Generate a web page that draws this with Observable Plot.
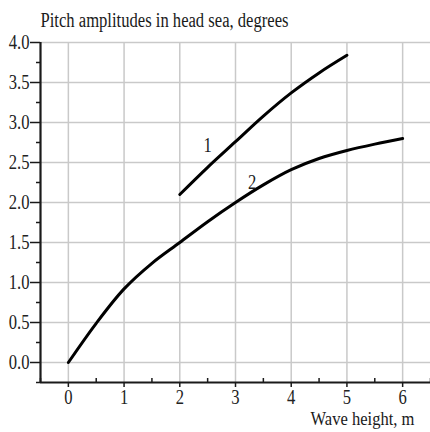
<!DOCTYPE html>
<html><head><meta charset="utf-8">
<script src="https://cdn.jsdelivr.net/npm/d3@7"></script>
<script src="https://cdn.jsdelivr.net/npm/@observablehq/plot@0.6"></script>
<style>body{margin:0;background:#fff} svg{display:block}</style>
</head><body><div id="chart"></div>
<script>
// Data
const waveHeight1 = [2, 2.5, 3, 3.5, 4, 4.5, 5];
const pitch1 = [2.1, 2.44, 2.76, 3.08, 3.37, 3.62, 3.84];
const waveHeight2 = [0, 0.5, 1, 1.5, 2, 2.5, 3, 3.5, 4, 4.5, 5, 5.5, 6];
const pitch2 = [0, 0.49, 0.92, 1.24, 1.5, 1.76, 2.0, 2.22, 2.41, 2.55, 2.65, 2.73, 2.8];
const curveNames = ["1", "2"];
const curveLabelX = [2.5, 3.3];
const curveLabelY = [2.71, 2.25];
const xTicks = [0, 1, 2, 3, 4, 5, 6];
const xMinor = [-0.5, 0.5, 1.5, 2.5, 3.5, 4.5, 5.5, 6.5];
const yTicks = [0, 0.5, 1, 1.5, 2, 2.5, 3, 3.5, 4];
const yMinor = [-0.25, 0.25, 0.75, 1.25, 1.75, 2.25, 2.75, 3.25, 3.75];
const xDomain = [-0.5, 6.5];
const yDomain = [-0.25, 4];
const titleText = "Pitch amplitudes in head sea, degrees";
const xLabelText = "Wave height, m";

const s1 = waveHeight1.map((x, i) => ({x, y: pitch1[i]}));
const s2 = waveHeight2.map((x, i) => ({x, y: pitch2[i]}));
const labels = curveNames.map((t, i) => ({t, x: curveLabelX[i], y: curveLabelY[i]}));

const grid = "#c9c9c9";
const ink = "#1a1a1a";

const chart = Plot.plot({
  width: 430, height: 432,
  marginLeft: 40, marginRight: 0, marginTop: 42, marginBottom: 50,
  style: {fontFamily: "'Liberation Serif', 'Times New Roman', serif", fontSize: "20px", background: "#fff", color: ink},
  x: {domain: xDomain},
  y: {domain: yDomain},
  marks: [
    Plot.ruleX(xTicks, {y1: yDomain[0], y2: yDomain[1], stroke: grid, strokeWidth: 1.5}),
    Plot.ruleY(yTicks, {x1: xDomain[0], x2: xDomain[1], stroke: grid, strokeWidth: 1.5}),
    Plot.axisY({ticks: yTicks, tickSize: 10, tickPadding: 1, tickFormat: d3.format(".1f"), label: null, strokeWidth: 1.5, fill: "#222", fontSize: 20}),
    Plot.axisY({ticks: yMinor, tickSize: 4, text: null, label: null, strokeWidth: 1.5}),
    Plot.axisX({ticks: xTicks, tickSize: 5, tickPadding: 2, tickFormat: d3.format("d"), label: null, strokeWidth: 1.5, fill: "#222", fontSize: 20}),
    Plot.ruleX(xMinor, {y1: yDomain[0], y2: yDomain[0], insetBottom: 4, strokeWidth: 1.5}),
    Plot.ruleX([xDomain[0]], {y1: yDomain[0], y2: yDomain[1], strokeWidth: 2.2, stroke: ink}),
    Plot.ruleY([yDomain[0]], {x1: xDomain[0], x2: xDomain[1], strokeWidth: 2.2, stroke: ink}),
    Plot.line(s1, {x: "x", y: "y", curve: "catmull-rom", stroke: "#000", strokeWidth: 3}),
    Plot.line(s2, {x: "x", y: "y", curve: "catmull-rom", stroke: "#000", strokeWidth: 3}),
    Plot.text(labels, {x: "x", y: "y", text: "t", fontSize: 20, fill: "#1a1a1a"}),
    Plot.text([titleText], {frameAnchor: "top-left", text: d => d, textAnchor: "start", lineAnchor: "bottom", dy: -16, fontSize: 20, fill: "#1a1a1a"}),
    Plot.text([xLabelText], {frameAnchor: "bottom-right", text: d => d, textAnchor: "end", lineAnchor: "bottom", dx: -16, dy: 42, fontSize: 18, fill: "#1a1a1a", className: "xlabel"})
  ]
});
document.getElementById("chart").appendChild(chart);
// Reference typeface is horizontally condensed: compress every label
d3.select(chart).selectAll("text").each(function () {
  const len = this.getComputedTextLength();
  if (len > 0) {
    const k = this.closest(".xlabel") ? 0.92 : 0.83;
    this.setAttribute("textLength", (len * k).toFixed(2));
    this.setAttribute("lengthAdjust", "spacingAndGlyphs");
  }
});
</script>
</body></html>
